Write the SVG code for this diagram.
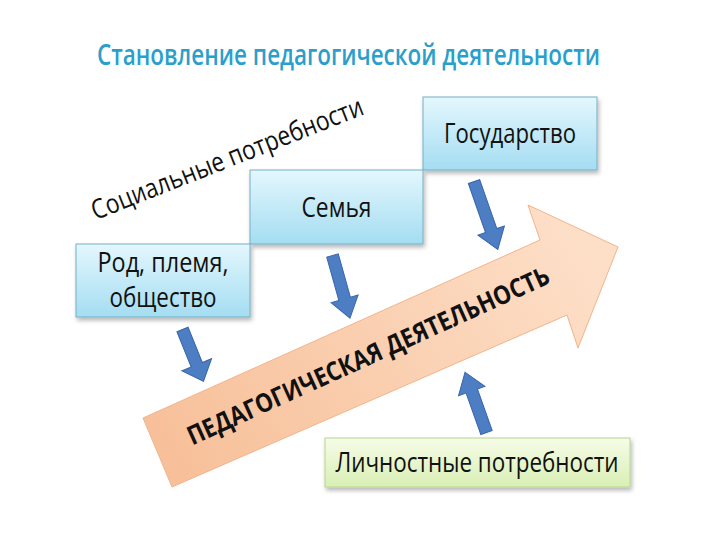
<svg xmlns="http://www.w3.org/2000/svg" width="720" height="540" viewBox="0 0 720 540">
  <defs>
    <linearGradient id="blueGrad" x1="0" y1="0" x2="0" y2="1">
      <stop offset="0" stop-color="#E4F7FD"/>
      <stop offset="1" stop-color="#A4DDF2"/>
    </linearGradient>
    <linearGradient id="greenGrad" x1="0" y1="0" x2="0" y2="1">
      <stop offset="0" stop-color="#F6FCE8"/>
      <stop offset="1" stop-color="#D9EFB4"/>
    </linearGradient>
    <linearGradient id="peachGrad" gradientUnits="userSpaceOnUse" x1="560" y1="230" x2="180" y2="470">
      <stop offset="0" stop-color="#FDDEC6"/>
      <stop offset="1" stop-color="#F7C09A"/>
    </linearGradient>
    <filter id="shadow" x="-10%" y="-10%" width="130%" height="140%">
      <feDropShadow dx="1.5" dy="3" stdDeviation="2" flood-color="#000" flood-opacity="0.28"/>
    </filter>
    <style>
      .box { fill: url(#blueGrad); stroke: #74AFC5; stroke-width: 1; filter: url(#shadow); }
      .gbox { fill: url(#greenGrad); stroke: #B6D58E; stroke-width: 1; filter: url(#shadow); }
      .lbl { font-family: "Open Sans", "Noto Sans", "DejaVu Sans", sans-serif; font-size: 27px; fill: #111; text-anchor: middle; }
      .blue { fill: #4D7DC3; stroke: #3A66A8; stroke-width: 1; }
    </style>
  </defs>

  <rect width="720" height="540" fill="#ffffff"/>

  <text id="title" x="348.5" y="65" font-family="Open Sans, Noto Sans, sans-serif" font-weight="600" font-size="28" fill="#2A9FCB" text-anchor="middle" textLength="503" lengthAdjust="spacingAndGlyphs">Становление педагогической деятельности</text>

  <text id="social" class="lbl" transform="translate(230.5,167) rotate(-21.5)" x="0" y="0" textLength="290" lengthAdjust="spacingAndGlyphs" font-size="30">Социальные потребности</text>

  <g id="activity-arrow">
    <path d="M143,418 L540,240 L528,205 L618,247 L578,348 L567,315 L172,487 Z" fill="url(#peachGrad)" stroke="#F2B48A" stroke-width="1"/>
    <text transform="translate(372,364) rotate(-24.4)" x="0" y="0" font-family="Open Sans, Noto Sans, sans-serif" font-weight="700" font-size="26" fill="#111" text-anchor="middle" textLength="395" lengthAdjust="spacingAndGlyphs">ПЕДАГОГИЧЕСКАЯ ДЕЯТЕЛЬНОСТЬ</text>
  </g>

  <g id="node-state">
    <rect class="box" x="423" y="97" width="174" height="73"/>
    <text class="lbl" x="510" y="143" textLength="132" lengthAdjust="spacingAndGlyphs">Государство</text>
  </g>

  <g id="node-family">
    <rect class="box" x="250" y="170" width="173" height="74"/>
    <text class="lbl" x="336.5" y="217" textLength="70" lengthAdjust="spacingAndGlyphs">Семья</text>
  </g>

  <g id="node-clan">
    <rect class="box" x="76" y="244" width="174" height="73"/>
    <text class="lbl" x="163" y="272" textLength="131" lengthAdjust="spacingAndGlyphs">Род, племя,</text>
    <text class="lbl" x="163" y="307" textLength="107" lengthAdjust="spacingAndGlyphs">общество</text>
  </g>

  <g id="node-personal">
    <rect class="gbox" x="325" y="438" width="305" height="49"/>
    <text class="lbl" x="477" y="472" textLength="283" lengthAdjust="spacingAndGlyphs">Личностные потребности</text>
  </g>

  <g id="connectors">
    <path class="blue" transform="translate(182.5,329.5) rotate(-22)" d="M-6,0 L6,0 L6,38 L16,38 L0,56 L-16,38 L-6,38 Z"/>
    <path class="blue" transform="translate(332.5,255.5) rotate(-15.6)" d="M-6,0 L6,0 L6,45 L14,45 L0,65 L-14,45 L-6,45 Z"/>
    <path class="blue" transform="translate(474,181.5) rotate(-19.3)" d="M-6,0 L6,0 L6,52 L14,52 L0,72 L-14,52 L-6,52 Z"/>
    <path class="blue" transform="translate(486.5,432.5) rotate(160.4)" d="M-6,0 L6,0 L6,44 L14,44 L0,64 L-14,44 L-6,44 Z"/>
  </g>
</svg>
